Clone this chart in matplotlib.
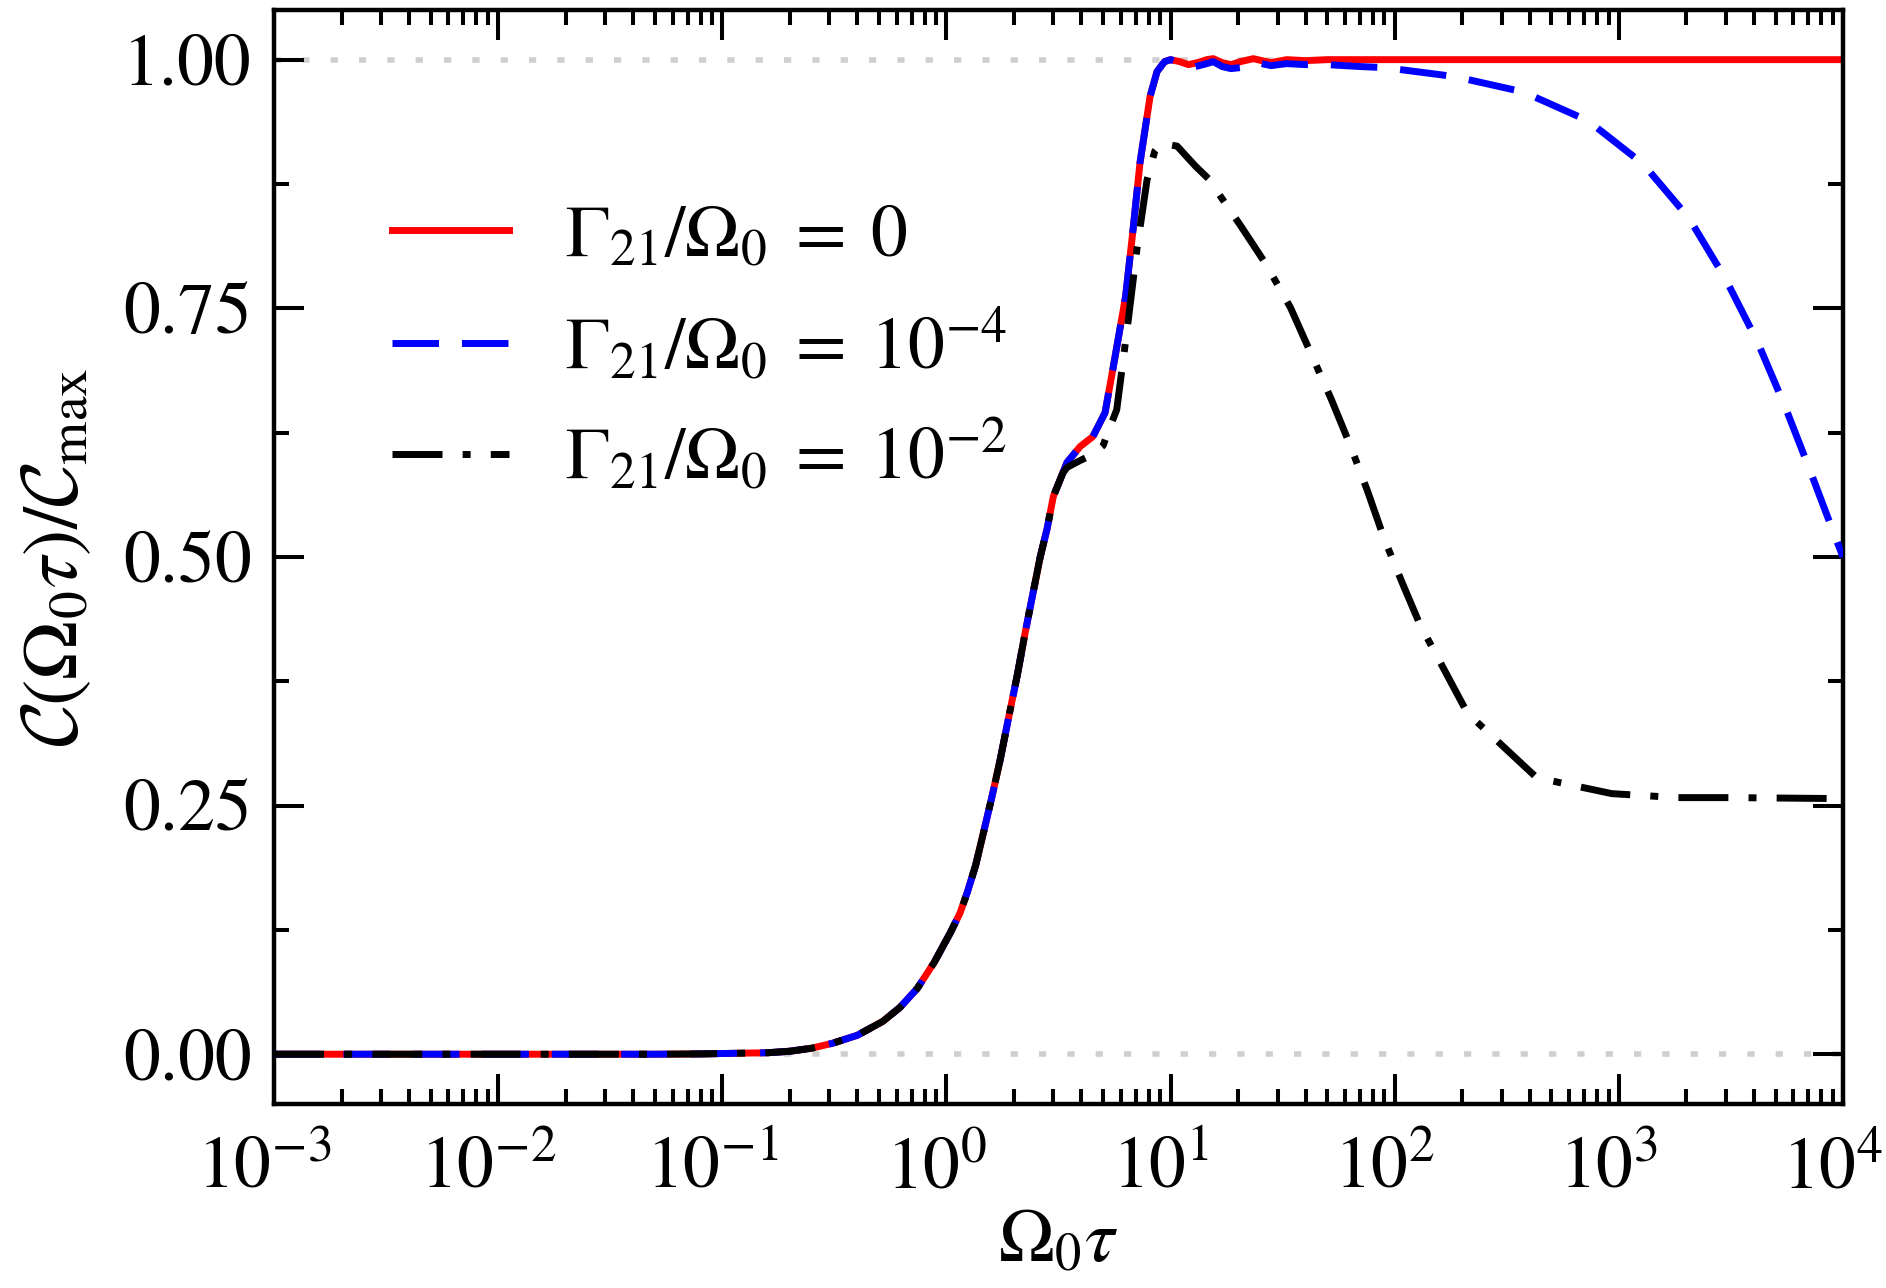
import matplotlib
matplotlib.use("Agg")
import matplotlib.pyplot as plt
import matplotlib.transforms as mtransforms
from matplotlib.ticker import LogLocator, MultipleLocator, FormatStrFormatter, NullFormatter

plt.rcParams['font.family'] = ['STIXGeneral', 'DejaVu Serif']
plt.rcParams['mathtext.fontset'] = 'custom'
plt.rcParams['mathtext.rm'] = 'STIXGeneral'
plt.rcParams['mathtext.it'] = 'STIXGeneral:italic'
plt.rcParams['mathtext.bf'] = 'STIXGeneral:bold'
plt.rcParams['mathtext.cal'] = 'cmsy10'

# common rising part (all three curves start together)
tau_rise = [1e-3, 1e-2, 0.05, 0.08, 0.1, 0.16, 0.2, 0.25, 0.31, 0.4, 0.52, 0.62, 0.74, 0.88,
            1.04, 1.15, 1.24, 1.35, 1.46, 1.6, 1.74, 1.9, 2.07, 2.25, 2.44, 2.62, 2.81, 3.0]
c_rise = [0.0, 0.0, 0.0, 0.0003, 0.0007, 0.0015, 0.003, 0.006, 0.011, 0.019, 0.033, 0.047,
          0.066, 0.092, 0.122, 0.142, 0.163, 0.19, 0.222, 0.26, 0.297, 0.34, 0.381, 0.425,
          0.465, 0.5, 0.528, 0.561]

# Gamma21/Omega0 = 0
tau_red = [3.3, 3.45, 3.95, 4.5, 5.1, 5.6, 6.3, 6.8, 7.3, 8.1, 8.7, 9.4, 10.0, 11.0, 12.0,
           13.2, 14.5, 15.5, 17.0, 18.6, 20.5, 23.4, 25.5, 28.0, 33.0, 40.0, 50.0, 70.0,
           100.0, 1e4]
c_red = [0.584, 0.595, 0.611, 0.621, 0.645, 0.696, 0.762, 0.829, 0.896, 0.963, 0.988, 0.998,
         1.0, 0.998, 0.995, 0.997, 1.0, 1.001, 0.997, 0.995, 0.998, 1.001, 0.999, 0.997, 1.0,
         0.999, 1.0, 1.0, 1.0, 1.0]

# Gamma21/Omega0 = 1e-4
tau_blue = [3.3, 3.45, 3.95, 4.5, 5.1, 5.6, 6.3, 6.8, 7.3, 8.1, 8.7, 9.4, 10.0, 11.0, 12.9,
            14.5, 15.5, 17.0, 18.6, 20.5, 23.4, 25.5, 28.0, 33.0, 40.0, 50.0, 71.0, 90.4,
            185.0, 375.0, 728.0, 1285.0, 2050.0, 2985.0, 4160.0, 5520.0, 7180.0, 9270.0, 1e4]
c_blue = [0.584, 0.595, 0.611, 0.621, 0.645, 0.696, 0.762, 0.829, 0.896, 0.963, 0.988, 0.998,
          1.0, 0.997, 0.993, 0.996, 0.998, 0.993, 0.991, 0.992, 0.997, 0.996, 0.994, 0.996,
          0.995, 0.995, 0.993, 0.992, 0.983, 0.9675, 0.9386, 0.895, 0.841, 0.780, 0.716,
          0.651, 0.585, 0.519, 0.50]

# Gamma21/Omega0 = 1e-2
tau_black = [3.3, 3.45, 3.95, 4.5, 5.0, 5.25, 5.75, 6.4, 7.1, 7.85, 8.5, 9.1, 10.7, 12.9,
             14.8, 17.0, 20.4, 26.7, 34.3, 42.2, 52.0, 63.1, 75.7, 89.5, 108.0, 129.0, 211.0,
             430.0, 930.0, 1820.0, 3160.0, 1e4]
c_black = [0.584, 0.59, 0.597, 0.603, 0.612, 0.625, 0.648, 0.729, 0.812, 0.879, 0.908, 0.916,
           0.913, 0.893, 0.88, 0.86, 0.834, 0.794, 0.7505, 0.705, 0.659, 0.613, 0.566, 0.519,
           0.474, 0.433, 0.343, 0.278, 0.262, 0.258, 0.258, 0.257]

labels = [r'$\Gamma_{21}/\Omega_0\;=\;0$',
          r'$\Gamma_{21}/\Omega_0\;=\;10^{-4}$',
          r'$\Gamma_{21}/\Omega_0\;=\;10^{-2}$']

fig = plt.figure(figsize=(18.86, 12.88), dpi=100)
ax = fig.add_axes([0.1453, 0.1429, 0.8319, 0.8494])

ax.axhline(0.0, color='#cfcfcf', lw=4.0, ls=(0, (1.3, 3.8)), zorder=1)
ax.axhline(1.0, color='#cfcfcf', lw=4.0, ls=(0, (1.3, 3.8)), zorder=1)

lw = 5.0
ax.plot(tau_rise + tau_red, c_rise + c_red, color='red', lw=lw, ls='-',
        label=labels[0], zorder=2)
ax.plot(tau_rise + tau_blue, c_rise + c_blue, color='blue', lw=lw, ls=(0, (6.7, 3.3)),
        label=labels[1], zorder=3)
ax.plot(tau_rise + tau_black, c_rise + c_black, color='black', lw=lw,
        ls=(0, (7.2, 2.9, 1.15, 2.9)), label=labels[2], zorder=4)

ax.set_xscale('log')
ax.set_xlim(1e-3, 1e4)
ax.set_ylim(-0.05, 1.05)

ax.xaxis.set_major_locator(LogLocator(base=10, numticks=20))
ax.xaxis.set_minor_locator(LogLocator(base=10, subs=range(2, 10), numticks=20))
ax.xaxis.set_minor_formatter(NullFormatter())
ax.yaxis.set_major_locator(MultipleLocator(0.25))
ax.yaxis.set_minor_locator(MultipleLocator(0.125))
ax.yaxis.set_major_formatter(FormatStrFormatter('%.2f'))

ax.tick_params(which='both', direction='in', top=True, right=True, width=2.9, colors='black')
ax.tick_params(which='major', length=21.5, labelsize=53)
ax.tick_params(which='minor', length=11)
ax.tick_params(axis='y', which='major', pad=16)
ax.tick_params(axis='x', which='major', pad=24)
for sp in ax.spines.values():
    sp.set_linewidth(3.2)

# x tick labels sit a little left of their ticks
shift = mtransforms.ScaledTranslation(-10 / 100, 0, fig.dpi_scale_trans)
for lab in ax.get_xticklabels():
    lab.set_transform(lab.get_transform() + shift)

ax.set_xlabel(r'$\Omega_0\tau$', fontsize=54, labelpad=4)
ax.set_ylabel(r'$\mathcal{C}(\Omega_0\tau)/\mathcal{C}_{\rm max}$', fontsize=57, labelpad=21)

ax.legend(loc='upper left', bbox_to_anchor=(0.075, 0.822), frameon=False, fontsize=53,
          handlelength=1.6, handletextpad=0.75, labelspacing=0.47, borderpad=0,
          borderaxespad=0)

fig.savefig('out.png', dpi=100)
